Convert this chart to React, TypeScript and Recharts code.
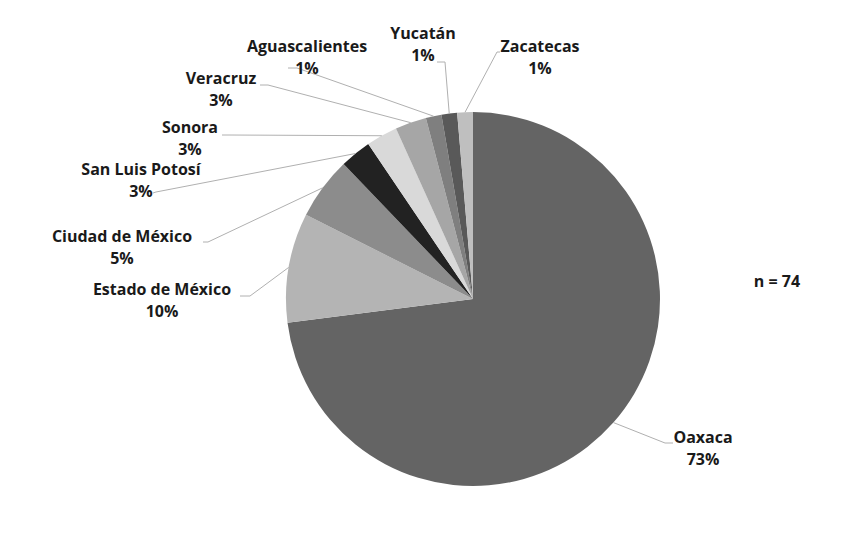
import React from 'react';
import { Pie, PieChart, Cell } from 'recharts';

const states = [
  'Oaxaca',
  'Estado de México',
  'Ciudad de México',
  'San Luis Potosí',
  'Sonora',
  'Veracruz',
  'Aguascalientes',
  'Yucatán',
  'Zacatecas',
];
const counts = [54, 7, 4, 2, 2, 2, 1, 1, 1];
const percentLabels = ['73%', '10%', '5%', '3%', '3%', '3%', '1%', '1%', '1%'];
const total = 74;

const fills = [
  '#646464',
  '#b4b4b4',
  '#8c8c8c',
  '#222222',
  '#d9d9d9',
  '#a6a6a6',
  '#7f7f7f',
  '#595959',
  '#bfbfbf',
];

// where each label sits, and the leader line start (before it bends to the slice)
const labelLayout = [
  { x: 703, y: 443, line: [[673, 443], [665, 443]] },
  { x: 162, y: 295, line: [[240, 296], [250, 296]] },
  { x: 122, y: 242, line: [[203, 242], [208, 242]] },
  { x: 141, y: 175, line: [[153, 193], [156, 192]] },
  { x: 190, y: 133, line: [[222, 135], [228, 135]] },
  { x: 221, y: 84, line: [[260, 85], [268, 85]] },
  { x: 307, y: 52, line: [[288, 68], [297, 68]] },
  { x: 423, y: 39, line: [[437, 62], [445, 62]] },
  { x: 540, y: 52, line: [[500, 52], [497, 52]] },
];

const data = states.map((name, i) => ({
  name,
  value: counts[i],
  pct: percentLabels[i],
}));

const RAD = Math.PI / 180;
const font = '"Open Sans", sans-serif';

function renderLabel(props: any) {
  const { cx, cy, midAngle, outerRadius, index } = props;
  const layout = labelLayout[index];
  const ex = cx + outerRadius * Math.cos(-midAngle * RAD);
  const ey = cy + outerRadius * Math.sin(-midAngle * RAD);
  const pts = [...layout.line, [ex, ey]].map((p) => p.join(',')).join(' ');
  return (
    <g key={`lbl-${index}`}>
      <polyline points={pts} fill="none" stroke="#b0b0b0" strokeWidth={1} />
      <text
        x={layout.x}
        y={layout.y}
        textAnchor="middle"
        fontFamily={font}
        fontWeight="bold"
        fontSize={16}
        fill="#1a1a1a"
      >
        {data[index].name}
      </text>
      <text
        x={layout.x}
        y={layout.y + 22}
        textAnchor="middle"
        fontFamily={font}
        fontWeight="bold"
        fontSize={16}
        fill="#1a1a1a"
      >
        {data[index].pct}
      </text>
    </g>
  );
}

export default function App() {
  return (
    <div style={{ position: 'absolute', left: 0, top: 0, background: '#fff' }}>
      <PieChart
        width={866}
        height={549}
        margin={{ top: 0, right: 0, bottom: 0, left: 0 }}
      >
        <Pie
          data={data}
          dataKey="value"
          nameKey="name"
          cx={473}
          cy={299}
          outerRadius={187}
          startAngle={90}
          endAngle={-270}
          stroke="none"
          label={renderLabel}
          labelLine={false}
          isAnimationActive={false}
        >
          {data.map((d, i) => (
            <Cell key={d.name} fill={fills[i]} />
          ))}
        </Pie>
        <text
          x={777}
          y={287}
          textAnchor="middle"
          fontFamily={font}
          fontWeight="bold"
          fontSize={16}
          fill="#1a1a1a"
        >
          n = {total}
        </text>
      </PieChart>
    </div>
  );
}
